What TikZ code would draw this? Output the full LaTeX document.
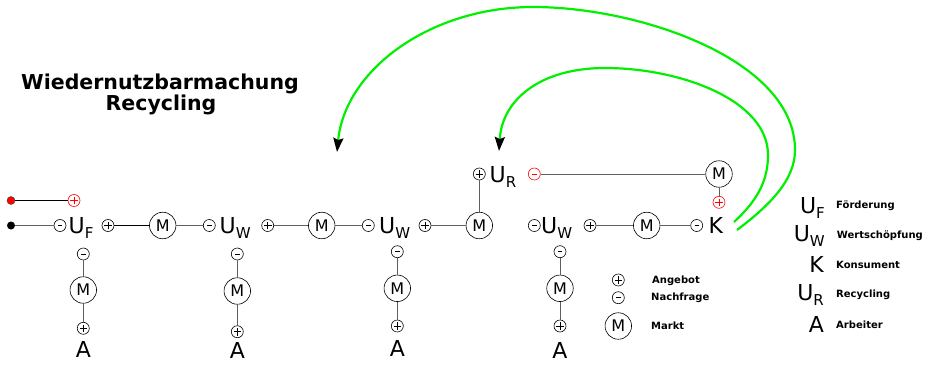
\documentclass[tikz,border=0pt]{standalone}
\usepackage{fontspec}
\setmainfont{DejaVu Sans}
\usetikzlibrary{arrows.meta}
\definecolor{lgreen}{RGB}{0,240,0}
\definecolor{lgray}{RGB}{95,95,95}
\newcommand\bigL{\fontsize{22}{22}\selectfont}
\newcommand\subL{\fontsize{15}{15}\selectfont}
\newcommand\ulab[1]{{\bigL U}{\subL\raisebox{-5pt}{#1}}}
\begin{document}
\begin{tikzpicture}[x=1pt,y=-1pt,
  pl/.style={circle,draw=#1,minimum size=12pt,inner sep=0pt,line width=0.6pt,
    path picture={\draw[#1,line width=0.6pt] ([xshift=-3.8pt]path picture bounding box.center) -- ([xshift=3.8pt]path picture bounding box.center) ([yshift=-3.8pt]path picture bounding box.center) -- ([yshift=3.8pt]path picture bounding box.center);}},
  pl/.default=black,
  mi/.style={circle,draw=#1,minimum size=12pt,inner sep=0pt,line width=0.6pt,
    path picture={\draw[#1,line width=0.7pt] ([xshift=-2.2pt]path picture bounding box.center) -- ([xshift=2.2pt]path picture bounding box.center);}},
  mi/.default=black,
  mk/.style={circle,draw,minimum size=26.5pt,inner sep=0pt,line width=0.6pt,font=\fontsize{16}{16}\selectfont},
  ln/.style={draw=lgray,line width=1pt},
  lab/.style={inner sep=0pt,anchor=base west,font=\bigL},
  rlab/.style={inner sep=0pt,anchor=base east,font=\bigL},
  alab/.style={inner sep=0pt,anchor=base,font=\bigL},
  leg/.style={inner sep=0pt,anchor=base west,font=\fontsize{10}{10}\selectfont\bfseries},
  ttl/.style={inner sep=0pt,anchor=base,font=\fontsize{20.5}{20.5}\selectfont\bfseries},
  gar/.style={draw=lgreen,line width=2.2pt,-{Stealth[length=14pt,width=10pt,inset=2pt,color=black]}},
]
\useasboundingbox (0,0) rectangle (934,364);

% title
\node[ttl] (t1) at (160,89) {Wiedernutzbarmachung};
\node[ttl] (t2) at (161,110) {Recycling};

% main row
\node[circle,fill=black,inner sep=0pt,minimum size=8pt] (bd) at (11,225.5) {};
\node[circle,fill=red,draw=black!70,line width=0.5pt,inner sep=0pt,minimum size=8pt] (rd) at (11,200.5) {};
\node[pl=red] (rp1) at (74,200.5) {};
\node[mi] (m1) at (60,225.5) {};
\node[lab] (UF) at (68.5,233) {\ulab{F}};
\node[pl] (p1) at (108,225.5) {};
\node[mk] (M1) at (162.7,225.5) {M};
\node[mi] (m2) at (209.3,225.5) {};
\node[lab] (UW1) at (219.5,233) {\ulab{W}};
\node[pl] (p2) at (267.7,225.5) {};
\node[mk] (M2) at (321.7,225.5) {M};
\node[mi] (m3) at (368.3,225.5) {};
\node[lab] (UW2) at (379,233) {\ulab{W}};
\node[pl] (p3) at (425,225.5) {};
\node[mk] (M3) at (479.3,225.5) {M};
\node[pl] (p4) at (479.3,174) {};
\node[lab] (UR) at (489.5,182) {\ulab{R}};
\node[mi=red] (rm) at (534.3,174) {};
\node[mk] (M4) at (719,174) {M};
\node[pl=red] (rp2) at (719,202.3) {};
\node[mi] (m5) at (534.3,225.5) {};
\node[lab] (UW3) at (541,233) {\ulab{W}};
\node[pl] (p5) at (590,225.5) {};
\node[mk] (M5) at (646.7,225.5) {M};
\node[mi] (m6) at (696.7,225.5) {};
\node[lab] (K) at (708.5,233) {K};

% columns
\node[mi] (c1m) at (83.3,254) {};
\node[mk] (c1M) at (83.3,290) {M};
\node[pl] (c1p) at (83.3,328.3) {};
\node[alab] (A1) at (83.3,357.5) {A};
\node[mi] (c2m) at (237.3,254) {};
\node[mk] (c2M) at (237.3,291) {M};
\node[pl] (c2p) at (237.3,331.7) {};
\node[alab] (A2) at (237.3,358.5) {A};
\node[mi] (c3m) at (397.3,251.7) {};
\node[mk] (c3M) at (397.3,288.3) {M};
\node[pl] (c3p) at (397.3,326) {};
\node[alab] (A3) at (397.3,356.5) {A};
\node[mi] (c4m) at (560,251.7) {};
\node[mk] (c4M) at (560,288.3) {M};
\node[pl] (c4p) at (560,326) {};
\node[alab] (A4) at (560,358.5) {A};

% legend middle
\node[pl] (lp) at (618.3,280) {};
\node[mi] (lm) at (618.3,297.7) {};
\node[mk] (lM) at (618.3,326) {M};
\node[leg] (tA) at (652,283) {Angebot};
\node[leg] (tN) at (651,300.6) {Nachfrage};
\node[leg] (tM) at (651,329.3) {Markt};

% legend right
\node[rlab] (LUF) at (825,213) {\ulab{F}};
\node[rlab] (LUW) at (825,241) {\ulab{W}};
\node[rlab] (LK) at (824,272.3) {K};
\node[rlab] (LUR) at (824,300.3) {\ulab{R}};
\node[rlab] (LA) at (824,332) {A};
\node[leg] (tF) at (836,208) {Förderung};
\node[leg] (tW) at (836.7,238) {Wertschöpfung};
\node[leg] (tK) at (836,268) {Konsument};
\node[leg] (tR) at (836,297) {Recycling};
\node[leg] (tAr) at (836,328) {Arbeiter};

% connectors
\draw[ln] (bd) -- (m1);
\draw[black,line width=1pt] (rd) -- (rp1);
\draw[black,line width=1.6pt] (p1) -- (M1);
\draw[ln] (M1) -- (m2);
\draw[ln] (p2) -- (M2) -- (m3);
\draw[ln] (p3) -- (M3) -- (p4);
\draw[ln] (rm) -- (M4) -- (rp2);
\draw[ln] (p5) -- (M5) -- (m6);
\draw[ln] (c1m) -- (c1M) -- (c1p);
\draw[ln] (c2m) -- (c2M) -- (c2p);
\draw[ln] (c3m) -- (c3M) -- (c3p);
\draw[ln] (c4m) -- (c4M) -- (c4p);

% green arrows
\coordinate (gi0) at (734,222);
\coordinate (go0) at (737,230);
\coordinate (giT) at (499,151);
\coordinate (goT) at (337,152);
\draw[gar] (gi0) .. controls (758,200) and (768,180) .. (768,155)
  .. controls (768,100) and (680,68) .. (605,68)
  .. controls (540,68) and (502,100) .. (giT);
\draw[gar] (go0) .. controls (770,205) and (795,180) .. (795,150)
  .. controls (795,60) and (640,7) .. (533,7)
  .. controls (430,7) and (345,70) .. (goT);
\end{tikzpicture}
\end{document}
